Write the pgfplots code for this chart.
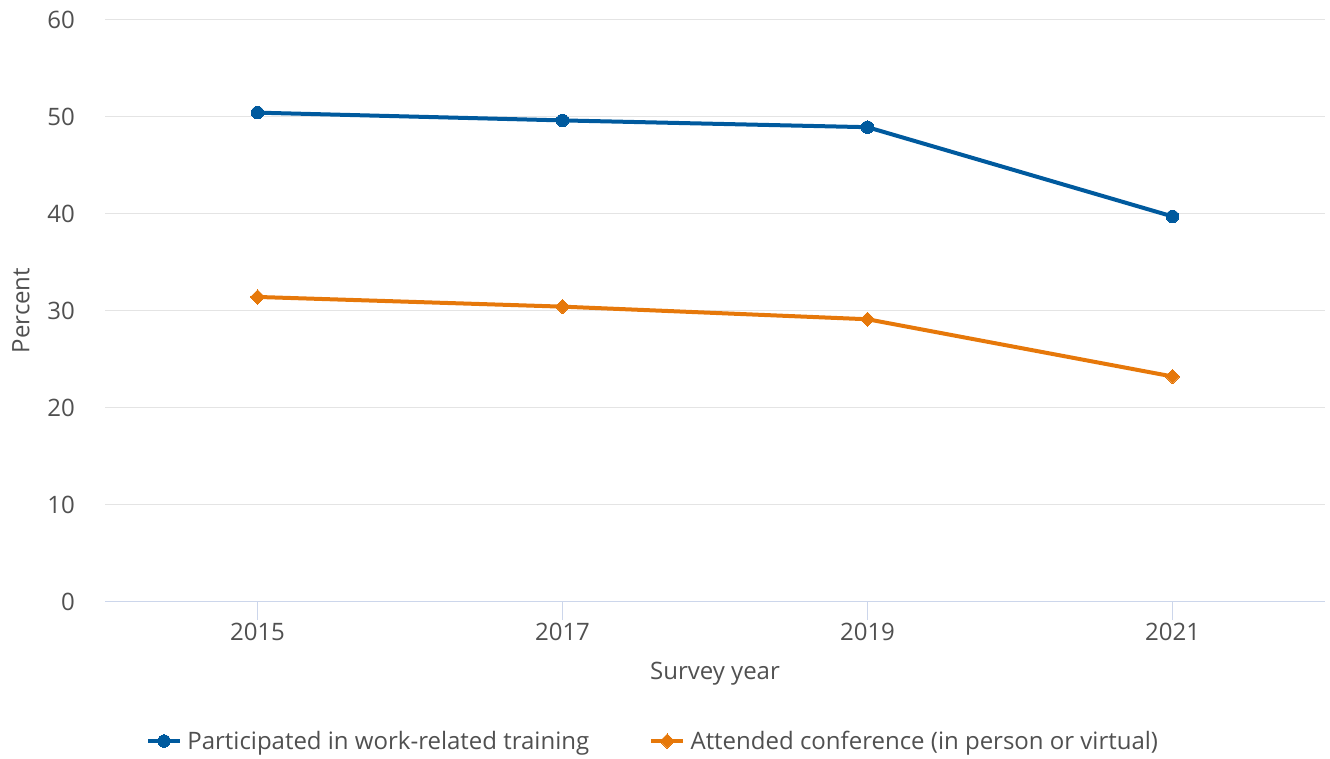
\documentclass[border=0pt]{standalone}
\usepackage{pgfplots}
\pgfplotsset{compat=1.18}
\usepackage{fontspec}
\setmainfont{Open Sans}
\definecolor{serblue}{RGB}{0,90,158}
\definecolor{serorange}{RGB}{230,120,10}
\definecolor{txtgray}{RGB}{80,80,80}
\definecolor{gridgray}{RGB}{228,228,228}
\definecolor{axisblue}{RGB}{204,214,235}
\begin{document}
\begin{tikzpicture}
\useasboundingbox (0,0) rectangle (997.5pt,569.25pt);
\begin{axis}[
  at={(78.75pt,118.1pt)}, anchor=south west,
  scale only axis, width=915pt, height=436.5pt,
  xmin=-0.5, xmax=3.5, ymin=0, ymax=60,
  xtick={0,1,2,3}, xticklabels={2015,2017,2019,2021},
  ytick={0,10,20,30,40,50,60},
  axis x line*=bottom, axis y line*=left,
  x axis line style={draw=axisblue, line width=1pt, -},
  y axis line style={draw=none},
  ymajorgrids, grid style={draw=gridgray, line width=1pt},
  major x tick style={draw=axisblue, line width=1pt},
  xtick align=outside, major tick length=13.5pt,
  ytick style={draw=none},
  /pgf/number format/assume math mode=true,
  tick label style={font=\fontsize{18}{21}\selectfont, text=txtgray, inner sep=0pt},
  xticklabel style={anchor=north, yshift=-2.2pt},
  yticklabel style={anchor=east, xshift=-22.5pt},
  ylabel={Percent}, xlabel={Survey year},
  label style={font=\fontsize{18}{21}\selectfont, text=txtgray},
  ylabel style={at={(axis description cs:-0.0689,0.5)}, anchor=center, rotate=0},
  xlabel style={at={(axis description cs:0.5,-0.1246)}, anchor=center},
  legend columns=2,
  legend style={at={(axis description cs:0.4495,-0.2397)}, anchor=center, draw=none,
    font=\fontsize{18}{21}\selectfont, text=txtgray,
    /tikz/every even column/.append style={column sep=43pt},
    /tikz/every odd column/.append style={column sep=2pt}},
  legend image code/.code={\draw[mark repeat=2,mark phase=2,#1] plot coordinates {(0pt,0pt) (12pt,0pt) (24pt,0pt)};},
  clip=false,
]
\addplot[color=serblue, line width=3pt, mark=*, mark size=4.7pt, mark options={solid, fill=serblue, draw=serblue, line width=0pt}]
  coordinates {(0,50.4) (1,49.6) (2,48.9) (3,39.7)};
\addlegendentry{Participated in work-related training}
\addplot[color=serorange, line width=3pt, mark=diamond*, mark size=5.4pt, mark options={solid, xscale=1.333, fill=serorange, draw=serorange, line width=0pt}]
  coordinates {(0,31.4) (1,30.4) (2,29.1) (3,23.2)};
\addlegendentry{Attended conference (in person or virtual)}
\end{axis}
\end{tikzpicture}
\end{document}
